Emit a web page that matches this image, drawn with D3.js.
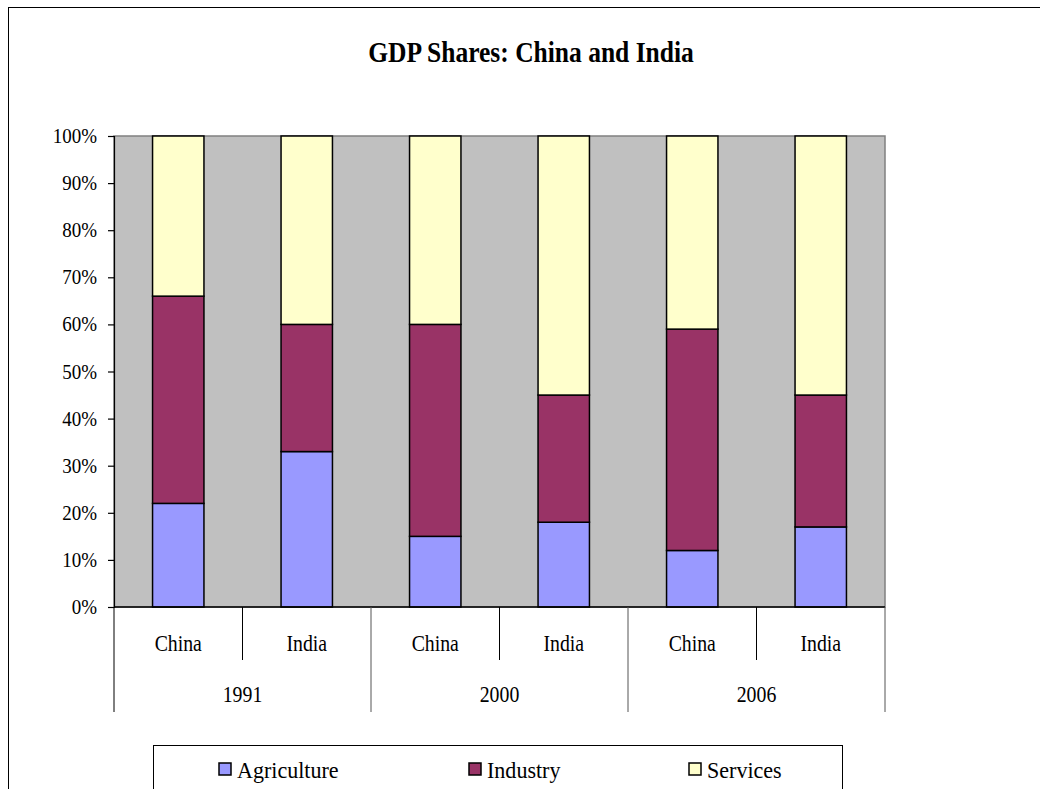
<!DOCTYPE html>
<html><head><meta charset="utf-8">
<script src="https://cdn.jsdelivr.net/npm/d3@7"></script>
<style>html,body{margin:0;padding:0;background:#fff;}svg{display:block;}</style>
</head><body>
<script>
const categories = ["China","India","China","India","China","India"];
const years = ["1991","2000","2006"];
const seriesNames = ["Agriculture","Industry","Services"];
const agriculture = [22,33,15,18,12,17];
const industry = [44,27,45,27,47,28];
const services = [34,40,40,55,41,55];
const yTicks = [0,10,20,30,40,50,60,70,80,90,100];
const colors = ["#9999FF","#993366","#FFFFCC"];

const W = 1040, H = 789;
const svg = d3.select("body").append("svg").attr("width", W).attr("height", H);
const font = "'Liberation Serif','Times New Roman',serif";

function txt(g, x, y, s, size, sx, anchor, weight) {
  const gg = g.append("g").attr("transform", `translate(${x},${y}) scale(${sx},1)`);
  gg.append("text").attr("x",0).attr("y",0).attr("text-anchor", anchor)
    .attr("font-family", font).attr("font-size", size).attr("font-weight", weight||"normal")
    .attr("fill","#000").text(s);
  return gg;
}

// outer frame
svg.append("rect").attr("x",8.5).attr("y",7.5).attr("width",1100).attr("height",900)
  .attr("fill","#fff").attr("stroke","#000").attr("stroke-width",1);

// title
txt(svg, 531, 62, "GDP Shares: China and India", 29, 0.88, "middle", "bold");

const x0 = 114, x1 = 885, y0 = 136, y1 = 607;
const data = categories.map((c,i)=>({key:i, cat:c, Agriculture:agriculture[i], Industry:industry[i], Services:services[i]}));
const x = d3.scaleBand().domain(data.map(d=>d.key)).range([x0,x1]).paddingInner(0.6).paddingOuter(0.3);
const y = d3.scaleLinear().domain([0,100]).range([y1,y0]);

// plot background
svg.append("rect").attr("x",x0).attr("y",y0).attr("width",x1-x0).attr("height",y1-y0)
  .attr("fill","#C0C0C0").attr("stroke","#808080").attr("stroke-width",1.5);

// bars
const stack = d3.stack().keys(seriesNames)(data);
stack.forEach((layer,li)=>{
  svg.append("g").selectAll("rect").data(layer).join("rect")
    .attr("x", d=>x(d.data.key)).attr("width", x.bandwidth())
    .attr("y", d=>y(d[1])).attr("height", d=>y(d[0])-y(d[1]))
    .attr("fill", colors[li]).attr("stroke","#000").attr("stroke-width",1.5);
});

// y axis
const yAxis = svg.append("g").attr("transform",`translate(${x0},0)`)
  .call(d3.axisLeft(y).tickValues(yTicks).tickSize(6).tickFormat(""));
yAxis.select(".domain").attr("stroke","#000").attr("stroke-width",1.2);
yAxis.selectAll(".tick line").attr("stroke","#000").attr("stroke-width",1.2);
yTicks.forEach(t=>{
  txt(svg, 97, y(t)+7, t+"%", 20, 0.95, "end");
});

// x axis
svg.append("line").attr("x1",x0).attr("x2",x1).attr("y1",y1).attr("y2",y1)
  .attr("stroke","#000").attr("stroke-width",1.5);
const step = x.step();
// inner separators
for (let g=0; g<years.length; g++) {
  const xs = x0 + step*(2*g+1);
  svg.append("line").attr("x1",xs).attr("x2",xs).attr("y1",y1).attr("y2",660)
    .attr("stroke","#000").attr("stroke-width",1);
}
for (let g=0; g<=years.length; g++) {
  const xs = x0 + step*(2*g);
  svg.append("line").attr("x1",xs).attr("x2",xs).attr("y1",y1).attr("y2",712)
    .attr("stroke", g===0 ? "#000" : "#555").attr("stroke-width",1);
}
data.forEach(d=>{
  txt(svg, x(d.key)+x.bandwidth()/2, 651, d.cat, 23, 0.86, "middle");
});
years.forEach((yr,g)=>{
  txt(svg, x0 + step*(2*g+1), 702, yr, 23, 0.86, "middle");
});

// legend
svg.append("rect").attr("x",153.5).attr("y",745.5).attr("width",689).attr("height",100)
  .attr("fill","#fff").attr("stroke","#000").attr("stroke-width",1);
const legX = [219, 469, 689];
seriesNames.forEach((s,i)=>{
  svg.append("rect").attr("x",legX[i]).attr("y",763).attr("width",12).attr("height",12)
    .attr("fill",colors[i]).attr("stroke","#000").attr("stroke-width",1.5);
  txt(svg, legX[i]+18, 778, s, 22.5, 0.98, "start");
});
</script>
</body></html>
